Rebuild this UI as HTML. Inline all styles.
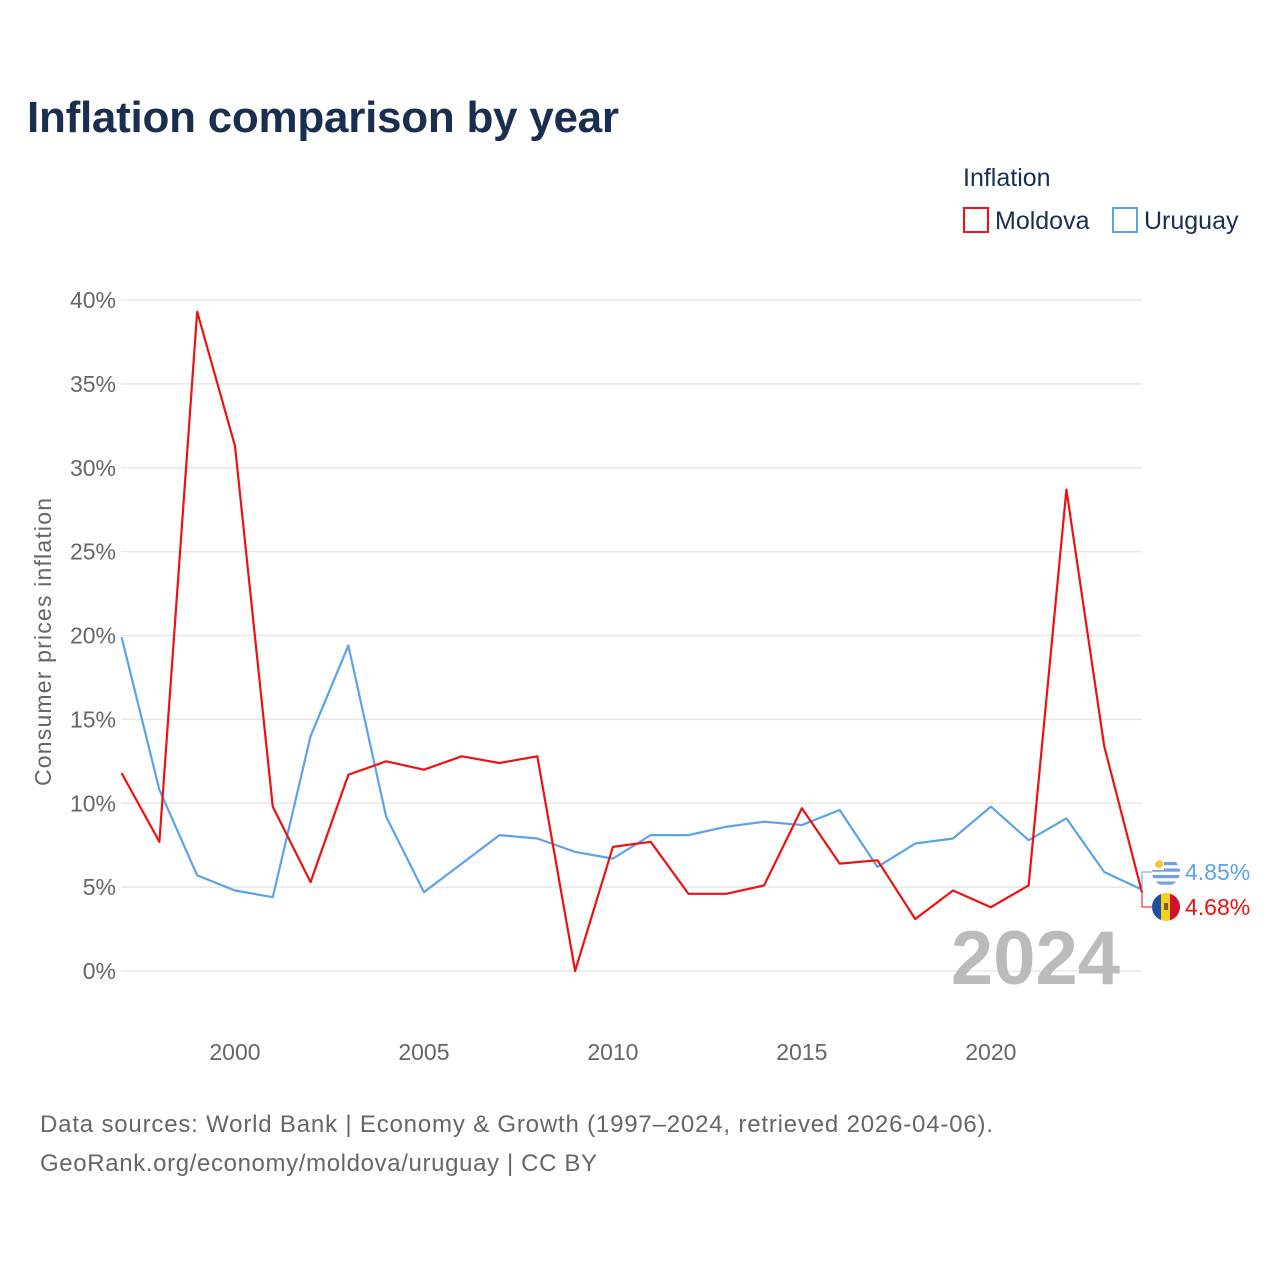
<!DOCTYPE html>
<html><head><meta charset="utf-8"><style>
body{margin:0;background:#fff;font-family:"Liberation Sans",sans-serif;}
svg{display:block}
</style></head><body>
<svg width="1280" height="1280" xmlns="http://www.w3.org/2000/svg" id="chart">
<defs><clipPath id="cu"><circle cx="1166" cy="872" r="14"/></clipPath><clipPath id="cm"><circle cx="1166" cy="907" r="14"/></clipPath></defs>
<text x="27" y="132" font-size="44" font-weight="bold" fill="#1a2e4f" textLength="592">Inflation comparison by year</text>
<text x="963" y="186" font-size="25" fill="#1a2e4f">Inflation</text>
<g><rect x="964" y="208" width="24" height="24" fill="none" stroke="#ee1111" stroke-width="2"/><text x="995" y="229" font-size="25" fill="#1a2e4f">Moldova</text></g>
<g><rect x="1113" y="208" width="24" height="24" fill="none" stroke="#5ba3e8" stroke-width="2"/><text x="1144" y="229" font-size="25" fill="#1a2e4f">Uruguay</text></g>
<g id="grid"></g><g id="ylabels"></g><g id="xlabels"></g>
<text transform="translate(51,642) rotate(-90)" text-anchor="middle" font-size="23" fill="#666" textLength="288">Consumer prices inflation</text>
<text x="1120" y="984" text-anchor="end" font-size="76" font-weight="bold" fill="#bbbbbb">2024</text>
<g id="series"></g>
<text x="40" y="1132" font-size="24" fill="#666" textLength="953">Data sources: World Bank | Economy &amp; Growth (1997–2024, retrieved 2026-04-06).</text>
<text x="40" y="1171" font-size="24" fill="#666" textLength="557">GeoRank.org/economy/moldova/uruguay | CC BY</text>
</svg>
<script>
const years=[1997,1998,1999,2000,2001,2002,2003,2004,2005,2006,2007,2008,2009,2010,2011,2012,2013,2014,2015,2016,2017,2018,2019,2020,2021,2022,2023,2024];
const moldova=[11.8,7.7,39.3,31.3,9.8,5.3,11.7,12.5,12.0,12.8,12.4,12.8,0.0,7.4,7.7,4.6,4.6,5.1,9.7,6.4,6.6,3.1,4.8,3.8,5.1,28.7,13.4,4.68];
const uruguay=[19.9,10.8,5.7,4.8,4.4,14.0,19.4,9.2,4.7,6.4,8.1,7.9,7.1,6.7,8.1,8.1,8.6,8.9,8.7,9.6,6.2,7.6,7.9,9.8,7.8,9.1,5.9,4.85];
const yTicks=[0,5,10,15,20,25,30,35,40];
const xTicks=[2000,2005,2010,2015,2020];
const NS="http://www.w3.org/2000/svg";
const X=y=>121.6+(y-1997)*(1142-121.6)/27;
const Y=v=>971-v*(971-300)/40;
function mk(tag,attrs,parent,txt){const e=document.createElementNS(NS,tag);for(const k in attrs)e.setAttribute(k,attrs[k]);if(txt!==undefined)e.textContent=txt;parent.appendChild(e);return e;}
const grid=document.getElementById('grid'),yl=document.getElementById('ylabels'),xl=document.getElementById('xlabels'),ser=document.getElementById('series');
yTicks.forEach(t=>{
 const l=mk('line',{x1:121,x2:1142,y1:Y(t),y2:Y(t),stroke:'#e8e8e8','stroke-width':1.5},grid);
 
 
 const tx=mk('text',{x:116,y:Y(t)+8,'text-anchor':'end','font-size':23,fill:'#666'},yl,t+'%');
 
 
});
xTicks.forEach(t=>{
 const tx=mk('text',{x:X(t),y:1060,'text-anchor':'middle','font-size':23,fill:'#666'},xl,String(t));
 
 
});
function line(vals,color,name){
 const p=mk('polyline',{points:vals.map((v,i)=>X(years[i])+','+Y(v)).join(' '),fill:'none',stroke:color,'stroke-width':2.2,'stroke-linejoin':'round'},ser);
 
 
}
line(uruguay,'#5ba3e8','uruguay-line');
line(moldova,'#ee1111','moldova-line');
const last=years.length-1,lx=X(years[last]);
const uc=872, mc=907;
mk('polyline',{points:`${lx},${Y(uruguay[last])} ${lx},${uc} ${lx+10},${uc}`,fill:'none',stroke:'#5ba3e8','stroke-width':1},ser);
mk('polyline',{points:`${lx},${Y(moldova[last])} ${lx},${mc} ${lx+10},${mc}`,fill:'none',stroke:'#ee1111','stroke-width':1},ser);
const fu=mk('g',{'clip-path':'url(#cu)'},ser);


mk('rect',{x:1150,y:856,width:32,height:32,fill:'#fff'},fu);
for(let i=0;i<4;i++)mk('rect',{x:1150,y:862+i*6.5,width:32,height:3.2,fill:'#6fa0e0'},fu);
mk('rect',{x:1150,y:856,width:14,height:14,fill:'#fff'},fu);
mk('circle',{cx:1159,cy:864,r:4,fill:'#f5c542'},fu);
const fm=mk('g',{'clip-path':'url(#cm)'},ser);


mk('rect',{x:1150,y:891,width:12,height:32,fill:'#1f4fa0'},fm);
mk('rect',{x:1161,y:891,width:10,height:32,fill:'#f7d018'},fm);
mk('rect',{x:1170,y:891,width:14,height:32,fill:'#d0122c'},fm);
mk('rect',{x:1164,y:903,width:4,height:7,fill:'#8a5a1a'},fm);
const tu=mk('text',{x:1185,y:uc+8,'font-size':23,fill:'#5ba3e8'},ser,uruguay[last].toFixed(2)+'%');


const tm=mk('text',{x:1185,y:mc+8,'font-size':23,fill:'#ee1111'},ser,moldova[last].toFixed(2)+'%');


</script>
</body></html>
